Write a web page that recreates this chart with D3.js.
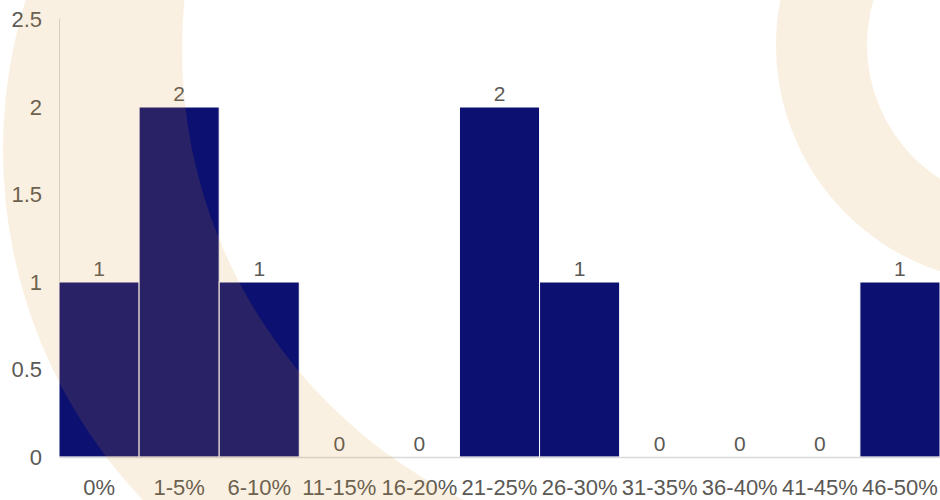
<!DOCTYPE html>
<html>
<head>
<meta charset="utf-8">
<script src="https://cdn.jsdelivr.net/npm/d3@7"></script>
<style>
  html, body { margin: 0; padding: 0; background: #fff; }
  svg { display: block; }
  text { font-family: "Liberation Sans", Arial, sans-serif; }
</style>
</head>
<body>
<div id="chart"></div>
<script>
// Distribution of responses by percentage bracket
const categories = ["0%", "1-5%", "6-10%", "11-15%", "16-20%", "21-25%", "26-30%", "31-35%", "36-40%", "41-45%", "46-50%"];
const counts = [1, 2, 1, 0, 0, 2, 1, 0, 0, 0, 1];
const yTicks = [0, 0.5, 1, 1.5, 2, 2.5];

const width = 940, height = 500;
const margin = { top: 19.5, right: 0, bottom: 43, left: 59 };

const svg = d3.select("#chart").append("svg")
  .attr("width", width)
  .attr("height", height);

const x = d3.scaleBand()
  .domain(categories)
  .range([margin.left, width - margin.right])
  .paddingInner(0)
  .paddingOuter(0);

const y = d3.scaleLinear()
  .domain([0, 2.5])
  .range([height - margin.bottom, margin.top]);

const textColor = "#5b5955";
const axisColor = "#d9d9d9";

// Y axis: labels only, plus a plain vertical rule
const yAxis = svg.append("g")
  .attr("transform", `translate(${margin.left},0)`)
  .call(d3.axisLeft(y).tickValues(yTicks).tickSize(0).tickPadding(17).tickFormat(d3.format("~g")));
yAxis.select(".domain").remove();
yAxis.selectAll("text")
  .attr("fill", textColor)
  .attr("font-size", 22);
svg.append("line")
  .attr("x1", margin.left + 0.5).attr("x2", margin.left + 0.5)
  .attr("y1", y(2.5) - 1).attr("y2", y(0))
  .attr("stroke", axisColor).attr("stroke-width", 1);

// Bars
svg.append("g")
  .selectAll("rect")
  .data(categories.map((c, i) => ({ cat: c, value: counts[i] })))
  .join("rect")
  .attr("x", d => x(d.cat))
  .attr("y", d => y(d.value))
  .attr("width", x.bandwidth())
  .attr("height", d => y(0) - y(d.value))
  .attr("fill", "#0c1070")
  .attr("stroke", "#ffffff")
  .attr("stroke-width", 1);

// X axis baseline and category labels
const xAxis = svg.append("g")
  .attr("transform", `translate(0,${y(0)})`)
  .call(d3.axisBottom(x).tickSize(0).tickPadding(22));
xAxis.select(".domain")
  .attr("stroke", axisColor).attr("stroke-width", 1.5);
xAxis.selectAll("text")
  .attr("fill", textColor)
  .attr("font-size", 22);

// Value labels above each bar
svg.append("g")
  .selectAll("text")
  .data(categories.map((c, i) => ({ cat: c, value: counts[i] })))
  .join("text")
  .attr("x", d => x(d.cat) + x.bandwidth() / 2)
  .attr("y", d => y(d.value) - 6)
  .attr("text-anchor", "middle")
  .attr("fill", textColor)
  .attr("font-size", 21)
  .text(d => d.value);

// Decorative translucent rings laid over the plot
const defs = svg.append("defs");
function ring(id, outer, inner) {
  const m = defs.append("mask").attr("id", id)
    .attr("maskUnits", "userSpaceOnUse")
    .attr("x", 0).attr("y", 0).attr("width", width).attr("height", height);
  m.append("rect").attr("width", width).attr("height", height).attr("fill", "#fff");
  m.append("circle").attr("cx", inner.cx).attr("cy", inner.cy).attr("r", inner.r).attr("fill", "#000");
  svg.append("circle")
    .attr("cx", outer.cx).attr("cy", outer.cy).attr("r", outer.r)
    .attr("fill", "rgb(219,148,41)")
    .attr("fill-opacity", 0.14)
    .attr("mask", `url(#${id})`);
}
ring("ringLeft", { cx: 511, cy: 150, r: 508 }, { cx: 682, cy: 50, r: 500 });
ring("ringRight", { cx: 1014, cy: 45, r: 238 }, { cx: 1026, cy: 45, r: 159 });
</script>
</body>
</html>
